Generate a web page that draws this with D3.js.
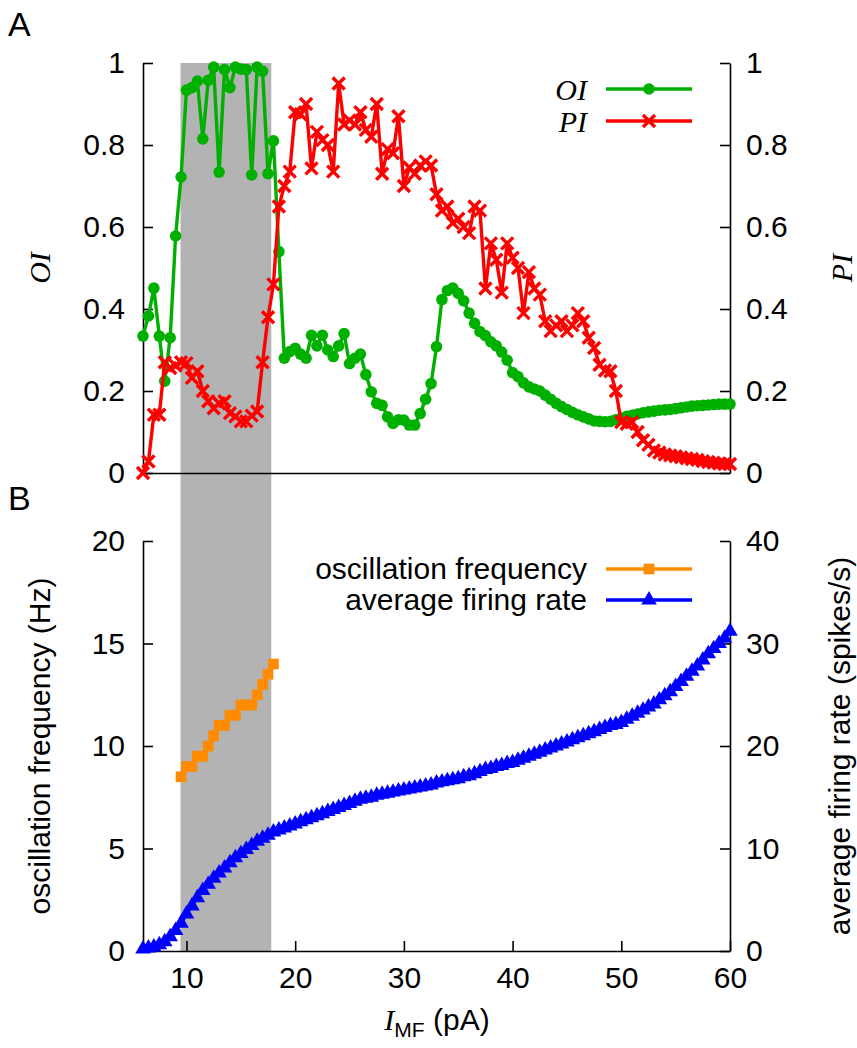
<!DOCTYPE html>
<html>
<head>
<meta charset="utf-8">
<script src="https://cdn.jsdelivr.net/npm/d3@7"></script>
<style>
  body { margin: 0; background: #fff; }
</style>
</head>
<body>
<script>
// input current (pA), one sample every 0.5 pA
const currentPA = [
  6, 6.5, 7, 7.5, 8, 8.5, 9, 9.5, 10, 10.5,
  11, 11.5, 12, 12.5, 13, 13.5, 14, 14.5, 15, 15.5,
  16, 16.5, 17, 17.5, 18, 18.5, 19, 19.5, 20, 20.5,
  21, 21.5, 22, 22.5, 23, 23.5, 24, 24.5, 25, 25.5,
  26, 26.5, 27, 27.5, 28, 28.5, 29, 29.5, 30, 30.5,
  31, 31.5, 32, 32.5, 33, 33.5, 34, 34.5, 35, 35.5,
  36, 36.5, 37, 37.5, 38, 38.5, 39, 39.5, 40, 40.5,
  41, 41.5, 42, 42.5, 43, 43.5, 44, 44.5, 45, 45.5,
  46, 46.5, 47, 47.5, 48, 48.5, 49, 49.5, 50, 50.5,
  51, 51.5, 52, 52.5, 53, 53.5, 54, 54.5, 55, 55.5,
  56, 56.5, 57, 57.5, 58, 58.5, 59, 59.5, 60
];

// panel A
const oiValues = [
  0.334, 0.383, 0.451, 0.334, 0.224, 0.330, 0.578, 0.722, 0.934, 0.940,
  0.956, 0.815, 0.958, 0.990, 0.734, 0.984, 0.940, 0.990, 0.985, 0.984,
  0.727, 0.990, 0.980, 0.730, 0.810, 0.540, 0.280, 0.296, 0.304, 0.290,
  0.280, 0.336, 0.310, 0.336, 0.300, 0.284, 0.310, 0.340, 0.267, 0.280,
  0.290, 0.240, 0.198, 0.170, 0.165, 0.137, 0.121, 0.130, 0.129, 0.117,
  0.117, 0.145, 0.180, 0.218, 0.308, 0.423, 0.445, 0.451, 0.438, 0.420,
  0.390, 0.365, 0.345, 0.335, 0.320, 0.310, 0.295, 0.275, 0.245, 0.235,
  0.220, 0.210, 0.205, 0.200, 0.190, 0.180, 0.170, 0.162, 0.155, 0.148,
  0.142, 0.137, 0.132, 0.127, 0.126, 0.125, 0.126, 0.130, 0.134, 0.138,
  0.141, 0.144, 0.147, 0.149, 0.151, 0.153, 0.154, 0.155, 0.157, 0.159,
  0.161, 0.163, 0.164, 0.165, 0.166, 0.167, 0.168, 0.168, 0.168
];
const piValues = [
  0.000, 0.028, 0.142, 0.142, 0.270, 0.256, 0.262, 0.270, 0.268, 0.232,
  0.248, 0.200, 0.175, 0.158, 0.170, 0.175, 0.146, 0.138, 0.126, 0.126,
  0.140, 0.150, 0.270, 0.380, 0.460, 0.650, 0.700, 0.735, 0.880, 0.875,
  0.900, 0.743, 0.832, 0.812, 0.800, 0.735, 0.950, 0.850, 0.860, 0.850,
  0.880, 0.837, 0.820, 0.900, 0.730, 0.790, 0.780, 0.870, 0.700, 0.745,
  0.730, 0.750, 0.760, 0.750, 0.680, 0.640, 0.650, 0.610, 0.620, 0.600,
  0.585, 0.650, 0.640, 0.450, 0.560, 0.520, 0.440, 0.560, 0.525, 0.500,
  0.390, 0.490, 0.450, 0.435, 0.370, 0.346, 0.360, 0.370, 0.346, 0.360,
  0.390, 0.370, 0.330, 0.305, 0.264, 0.250, 0.248, 0.200, 0.124, 0.120,
  0.124, 0.100, 0.080, 0.069, 0.055, 0.050, 0.045, 0.043, 0.041, 0.038,
  0.036, 0.034, 0.032, 0.029, 0.027, 0.025, 0.023, 0.022, 0.022
];

// panel B
const rateValues = [
  0.2, 0.3, 0.4, 0.6, 0.9, 1.4, 2.0, 2.7, 3.6, 4.4,
  5.2, 5.9, 6.5, 7.1, 7.6, 8.1, 8.6, 9.1, 9.5, 9.9,
  10.3, 10.7, 11.0, 11.3, 11.6, 11.8, 12.0, 12.2, 12.4, 12.6,
  12.8, 13.0, 13.2, 13.4, 13.6, 13.8, 14.0, 14.2, 14.4, 14.6,
  14.8, 14.9, 15.0, 15.2, 15.3, 15.4, 15.5, 15.6, 15.7, 15.8,
  15.9, 16.0, 16.1, 16.2, 16.4, 16.5, 16.6, 16.7, 16.8, 17.0,
  17.1, 17.3, 17.5, 17.7, 17.8, 18.0, 18.1, 18.3, 18.4, 18.6,
  18.8, 19.0, 19.2, 19.4, 19.6, 19.8, 20.0, 20.2, 20.4, 20.6,
  20.8, 21.0, 21.2, 21.4, 21.6, 21.8, 22.0, 22.1, 22.3, 22.6,
  22.9, 23.2, 23.5, 23.8, 24.1, 24.5, 24.9, 25.3, 25.8, 26.3,
  26.8, 27.3, 27.8, 28.4, 29.0, 29.5, 30.0, 30.5, 31.2
];
const freqPA = [9.5, 10, 10.5, 11, 11.5, 12, 12.5, 13, 13.5, 14, 14.5, 15, 15.5, 16, 16.5, 17, 17.5, 18];
const freqHz = [8.5, 9, 9, 9.5, 9.5, 10, 10.5, 11, 11, 11.5, 11.5, 12, 12, 12, 12.5, 13, 13.5, 14];

const shadedRange = [9.45, 17.8];

const ticksX = [10, 20, 30, 40, 50, 60];
const ticksIndex = [0, 0.2, 0.4, 0.6, 0.8, 1];
const ticksFreq = [0, 5, 10, 15, 20];
const ticksRate = [0, 10, 20, 30, 40];

const width = 857, height = 1048;
const left = 143, right = 730;
const sans = "'Liberation Sans', Arial, sans-serif";
const serif = "'Liberation Serif', 'Times New Roman', serif";

const x = d3.scaleLinear([6, 60], [left, right]);
const yA = d3.scaleLinear([0, 1], [473, 63]);
const yB = d3.scaleLinear([0, 20], [951, 541]);
const yR = d3.scaleLinear([0, 40], [951, 541]);

const svg = d3.select("body").append("svg")
    .attr("width", width)
    .attr("height", height)
    .style("font-family", sans)
    .style("font-size", "30px");

// shaded band spans both panels
svg.append("rect")
    .attr("x", x(shadedRange[0]))
    .attr("width", x(shadedRange[1]) - x(shadedRange[0]))
    .attr("y", yA(1))
    .attr("height", yB(0) - yA(1))
    .attr("fill", "#b3b3b3");

function styleAxis(g) {
  g.attr("font-family", null).attr("font-size", null);
  g.select(".domain").attr("stroke", "#000").attr("stroke-width", 1.6);
  g.selectAll(".tick line").attr("stroke", "#000").attr("stroke-width", 1.6);
  g.selectAll(".tick text").attr("fill", "#000");
}

// panel A axes
svg.append("g")
    .attr("transform", `translate(${left},0)`)
    .call(d3.axisLeft(yA).tickValues(ticksIndex).tickFormat(d => String(d))
      .tickSizeInner(-10).tickSizeOuter(0).tickPadding(18))
    .call(styleAxis);
svg.append("g")
    .attr("transform", `translate(${right},0)`)
    .call(d3.axisRight(yA).tickValues(ticksIndex).tickFormat(d => String(d))
      .tickSizeInner(-10).tickSizeOuter(0).tickPadding(16))
    .call(styleAxis);
svg.append("g")
    .attr("transform", `translate(0,${yA(0)})`)
    .call(d3.axisBottom(x).tickValues([]).tickSizeOuter(0))
    .call(styleAxis);

// panel B axes
svg.append("g")
    .attr("transform", `translate(${left},0)`)
    .call(d3.axisLeft(yB).tickValues(ticksFreq)
      .tickSizeInner(-10).tickSizeOuter(0).tickPadding(18))
    .call(styleAxis);
svg.append("g")
    .attr("transform", `translate(${right},0)`)
    .call(d3.axisRight(yR).tickValues(ticksRate)
      .tickSizeInner(-10).tickSizeOuter(0).tickPadding(16))
    .call(styleAxis);
svg.append("g")
    .attr("transform", `translate(0,${yB(0)})`)
    .call(d3.axisBottom(x).tickValues(ticksX)
      .tickSizeInner(-10).tickSizeOuter(0).tickPadding(16))
    .call(styleAxis);

// markers
const crossPath = "M-6,-6L6,6M-6,6L6,-6";
const triangle = d3.symbol(d3.symbolTriangle, 105)();
const square = d3.symbol(d3.symbolSquare, 115)();

const oiData = currentPA.map((c, i) => [c, oiValues[i]]);
const piData = currentPA.map((c, i) => [c, piValues[i]]);
const rateData = currentPA.map((c, i) => [c, rateValues[i]]);
const freqData = freqPA.map((c, i) => [c, freqHz[i]]);

function drawSeries(data, yScale, color, marker) {
  const line = d3.line().x(d => x(d[0])).y(d => yScale(d[1]));
  const g = svg.append("g");
  g.append("path")
      .attr("d", line(data))
      .attr("fill", "none")
      .attr("stroke", color)
      .attr("stroke-width", 3.4)
      .attr("stroke-linejoin", "round");
  const m = g.selectAll("g.pt").data(data).join("g")
      .attr("transform", d => `translate(${x(d[0])},${yScale(d[1])})`);
  marker(m, color);
}

const circleMarker = (m, c) => m.append("circle").attr("r", 5.8).attr("fill", c);
const crossMarker = (m, c) => m.append("path").attr("d", crossPath)
    .attr("stroke", c).attr("stroke-width", 3.4).attr("fill", "none");
const triMarker = (m, c) => m.append("path").attr("d", triangle).attr("fill", c);
const squareMarker = (m, c) => m.append("path").attr("d", square).attr("fill", c);

const green = "#00b000", red = "#ff0000", orange = "#ff8c00", blue = "#0000ff";

drawSeries(oiData, yA, green, circleMarker);
drawSeries(piData, yA, red, crossMarker);
drawSeries(freqData, yB, orange, squareMarker);
drawSeries(rateData, yR, blue, triMarker);

// legends
function legendRow(label, textY, lineY, color, marker, italic) {
  const t = svg.append("text")
      .attr("x", 587).attr("y", textY)
      .attr("text-anchor", "end")
      .text(label);
  if (italic) t.style("font-family", serif).style("font-style", "italic");
  svg.append("line")
      .attr("x1", 606).attr("x2", 692)
      .attr("y1", lineY).attr("y2", lineY)
      .attr("stroke", color).attr("stroke-width", 3.4);
  marker(svg.append("g").attr("transform", `translate(649,${lineY})`), color);
}
legendRow("OI", 100, 89, green, circleMarker, true);
legendRow("PI", 132, 121, red, crossMarker, true);
legendRow("oscillation frequency", 579, 569, orange, squareMarker, false);
legendRow("average firing rate", 610, 600, blue, triMarker, false);

// axis titles
svg.append("text")
    .attr("transform", "translate(50,268) rotate(-90)")
    .attr("text-anchor", "middle")
    .style("font-family", serif).style("font-style", "italic")
    .text("OI");
svg.append("text")
    .attr("transform", "translate(852,268) rotate(-90)")
    .attr("text-anchor", "middle")
    .style("font-family", serif).style("font-style", "italic")
    .text("PI");
svg.append("text")
    .attr("transform", "translate(50,746) rotate(-90)")
    .attr("text-anchor", "middle")
    .text("oscillation frequency (Hz)");
svg.append("text")
    .attr("transform", "translate(850,746) rotate(-90)")
    .attr("text-anchor", "middle")
    .text("average firing rate (spikes/s)");

const xl = svg.append("text")
    .attr("x", 437).attr("y", 1030)
    .attr("text-anchor", "middle");
xl.append("tspan").style("font-family", serif).style("font-style", "italic").text("I");
xl.append("tspan").attr("dy", 7).style("font-size", "21px").text("MF");
xl.append("tspan").attr("dy", -7).text(" (pA)");

// panel letters
svg.append("text").attr("x", 8).attr("y", 36).style("font-size", "34px").text("A");
svg.append("text").attr("x", 8).attr("y", 510).style("font-size", "34px").text("B");
</script>
</body>
</html>
